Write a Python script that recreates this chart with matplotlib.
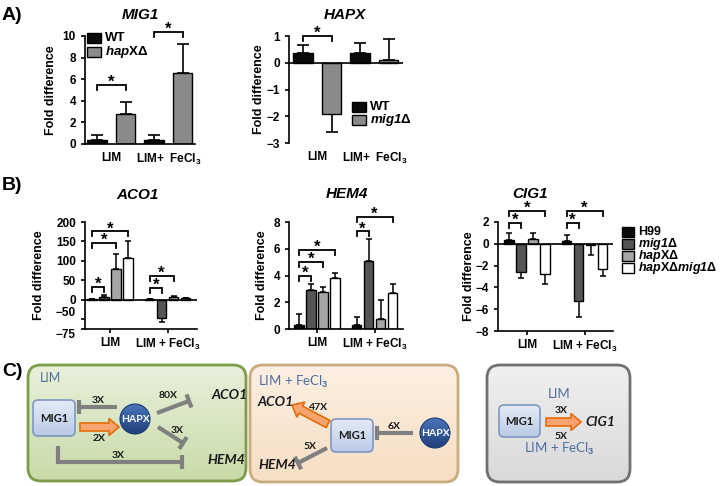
import numpy as np
import matplotlib
matplotlib.use("Agg")
import matplotlib.pyplot as plt
from matplotlib.patches import Rectangle, FancyBboxPatch, Circle, FancyArrow
from matplotlib.colors import LinearSegmentedColormap

FONT = "Liberation Sans"
DFONT = "Lato"
plt.rcParams["font.family"] = [FONT, "DejaVu Sans"]
plt.rcParams["font.weight"] = "bold"
plt.rcParams["mathtext.fontset"] = "custom"
plt.rcParams["mathtext.rm"] = "Liberation Sans"
plt.rcParams["mathtext.bf"] = "Liberation Sans:bold"
plt.rcParams["mathtext.it"] = "Liberation Sans:italic"
plt.rcParams["mathtext.bfit"] = "Liberation Sans:italic:bold"

# ---------------- data ----------------
conditions_a = ["LIM", "LIM+  FeCl$_\\mathbf{3}$"]
mig1_wt = [0.35, 0.35]
mig1_wt_err = [0.45, 0.5]
mig1_hapx = [2.8, 6.55]
mig1_hapx_err = [1.05, 2.7]

hapx_wt = [0.35, 0.35]
hapx_wt_err = [0.3, 0.37]
hapx_mig1 = [-1.9, 0.1]
hapx_mig1_err = [0.7, 0.78]

conditions_b = ["LIM", "LIM + FeCl$_3$"]
strains_b = ["H99", r"$\mathbfit{mig1}\mathbf{\Delta}$", r"$\mathbfit{hap}\mathbf{X\Delta}$",
             r"$\mathbfit{hap}\mathbf{X\Delta}\mathbfit{mig1}\mathbf{\Delta}$"]
aco1_lim = [1.0, 8.0, 80.0, 107.0]
aco1_lim_err = [0.5, 4.0, 38.0, 44.0]
aco1_fe = [1.0, -47.0, 8.0, 4.0]
aco1_fe_err = [0.5, 10.0, 2.5, 1.5]

hem4_lim = [0.3, 2.9, 2.8, 3.8]
hem4_lim_err = [0.8, 0.5, 0.35, 0.35]
hem4_fe = [0.3, 5.05, 0.75, 2.7]
hem4_fe_err = [0.6, 1.65, 1.4, 0.7]

cig1_lim = [0.35, -2.6, 0.4, -2.8]
cig1_lim_err = [0.65, 0.5, 0.6, 0.9]
cig1_fe = [0.3, -5.25, -0.1, -2.3]
cig1_fe_err = [0.5, 1.45, 0.9, 0.7]

# significance brackets: (bar i, bar j, height)
sig_mig1 = [(0, 1, 5.5), (2, 3, 10.4)]
sig_hapx = [(0, 1, 1.0)]
sig_aco1 = [(0, 1, 33), (0, 2, 146), (0, 3, 176), (4, 5, 30), (4, 6, 62)]
sig_hem4 = [(0, 1, 4.0), (0, 2, 5.0), (0, 3, 5.9), (4, 5, 7.3), (4, 7, 8.4)]
sig_cig1 = [(0, 1, 1.95), (0, 3, 3.05), (4, 5, 1.95), (4, 7, 3.05)]

legend_mig1 = ["WT", r"$\mathbfit{hap}\mathbf{X\Delta}$"]
legend_hapx = ["WT", r"$\mathbfit{mig1}\mathbf{\Delta}$"]

colors_a = ["#0a0a0a", "#8a8a8a"]
colors_b = ["#0a0a0a", "#555555", "#a6a6a6", "#ffffff"]

W, H = 720, 486
fig = plt.figure(figsize=(W / 100, H / 100), dpi=100)


def px_axes(x0, yt, x1, yb):
    ax = fig.add_axes([x0 / W, 1 - yb / H, (x1 - x0) / W, (yb - yt) / H])
    ax.set_facecolor("none")
    for s in ["top", "right"]:
        ax.spines[s].set_visible(False)
    for s in ["left", "bottom"]:
        ax.spines[s].set_linewidth(1.2)
    ax.tick_params(axis="both", labelsize=8.5, width=1.2, length=3)
    return ax


def signed_err(vals, errs):
    lo = [e if v < 0 else 0 for v, e in zip(vals, errs)]
    hi = [e if v >= 0 else 0 for v, e in zip(vals, errs)]
    return [lo, hi]


def brackets(ax, xs, sigs, drop_px=5):
    y0, y1 = ax.get_ylim()
    h_px = ax.get_position().height * H
    d = drop_px * (y1 - y0) / h_px
    for i, j, y in sigs:
        xa, xb = xs[i], xs[j]
        ax.plot([xa, xa, xb, xb], [y - d, y, y, y - d], color="black", lw=1.3,
                clip_on=False, solid_joinstyle="miter")
        ax.annotate("*", ((xa + xb) / 2, y), xytext=(0, -1.5), textcoords="offset points",
                    ha="center", va="baseline", fontsize=12, fontweight="bold",
                    annotation_clip=False)


def ylabel(ax, x_px):
    pos = ax.get_position()
    ax.set_ylabel("Fold difference", fontsize=9, fontweight="bold")
    ax.yaxis.set_label_coords((x_px - pos.x0 * W) / (pos.width * W), 0.5)


# ---------------- Panel A: MIG1 ----------------
ax = px_axes(85, 36, 195, 144)
xa = np.arange(2) * 2.0
ax.errorbar(xa, mig1_wt, yerr=signed_err(mig1_wt, mig1_wt_err), fmt="none",
            ecolor="black", elinewidth=1.2, capsize=4, capthick=1.2, zorder=1)
ax.errorbar(xa + 1, mig1_hapx, yerr=signed_err(mig1_hapx, mig1_hapx_err), fmt="none",
            ecolor="black", elinewidth=1.2, capsize=4, capthick=1.2, zorder=1)
ax.bar(xa, mig1_wt, width=0.68, color=colors_a[0], edgecolor="black", lw=1, zorder=2)
ax.bar(xa + 1, mig1_hapx, width=0.68, color=colors_a[1], edgecolor="black", lw=1, zorder=2)
ax.set_ylim(0, 10)
ax.set_xlim(-0.42, 3.43)
ax.set_yticks([0, 2, 4, 6, 8, 10])
ax.set_xticks(xa + 0.5)
ax.set_xticklabels(conditions_a, fontsize=8.5, fontweight="bold")
ax.tick_params(axis="x", length=0, pad=6)
ylabel(ax, 57)
brackets(ax, [0, 1, 2, 3], sig_mig1)

# ---------------- Panel A: HAPX ----------------
ax = px_axes(289, 36, 403, 143)
ax.errorbar(xa, hapx_wt, yerr=signed_err(hapx_wt, hapx_wt_err), fmt="none",
            ecolor="black", elinewidth=1.2, capsize=4, capthick=1.2, zorder=1)
ax.errorbar(xa + 1, hapx_mig1, yerr=signed_err(hapx_mig1, hapx_mig1_err), fmt="none",
            ecolor="black", elinewidth=1.2, capsize=4, capthick=1.2, zorder=1)
ax.bar(xa, hapx_wt, width=0.68, color=colors_a[0], edgecolor="black", lw=1, zorder=2)
ax.bar(xa + 1, hapx_mig1, width=0.68, color=colors_a[1], edgecolor="black", lw=1, zorder=2)
ax.set_ylim(-3, 1)
ax.set_xlim(-0.49, 3.5)
ax.axhline(0, color="black", lw=1.2, zorder=3)
ax.spines["bottom"].set_visible(False)
ax.set_yticks([-3, -2, -1, 0, 1])
ax.set_xticks(xa + 0.5)
ax.set_xticklabels(conditions_a, fontsize=8.5, fontweight="bold")
ax.tick_params(axis="x", length=0, pad=6)
ylabel(ax, 265)
brackets(ax, [0, 1, 2, 3], sig_hapx)

# ---------------- Panel B ----------------
grp = 4.8
xb = np.concatenate([np.arange(4) - 1.5, np.arange(4) - 1.5 + grp])


def panel_b(x0, yt, x1, yb, lim, lim_err, fe, fe_err, ylim, yticks, xlim, sigs, ylab_x, zero):
    ax = px_axes(x0, yt, x1, yb)
    vals = list(lim) + list(fe)
    errs = list(lim_err) + list(fe_err)
    cols = colors_b * 2
    ax.errorbar(xb, vals, yerr=signed_err(vals, errs), fmt="none", ecolor="black",
                elinewidth=1.1, capsize=2.5, capthick=1.1, zorder=1)
    ax.bar(xb, vals, width=0.8, color=cols, edgecolor="black", lw=1, zorder=2)
    ax.set_ylim(*ylim)
    ax.set_xlim(*xlim)
    ax.set_yticks(yticks)
    ax.set_xticks([0, grp])
    ax.set_xticklabels(conditions_b, fontsize=8.5, fontweight="bold")
    ax.tick_params(axis="x", pad=3)
    if zero:
        ax.axhline(0, color="black", lw=1.2, zorder=3)
    ylabel(ax, ylab_x)
    brackets(ax, xb, sigs)
    return ax


ax_aco = panel_b(85, 222, 197, 329, aco1_lim, aco1_lim_err, aco1_fe, aco1_fe_err,
                 (-75, 200), [-75, -50, 0, 50, 100, 150, 200], (-2.1, 7.25), sig_aco1, 45, True)
for t in ax_aco.get_yticklabels():
    if t.get_text() in ("−75", "-75"):
        t.set_va("top")
    if t.get_text() in ("−50", "-50"):
        t.set_va("bottom")
panel_b(289, 222, 403, 329, hem4_lim, hem4_lim_err, hem4_fe, hem4_fe_err,
        (0, 8), [0, 2, 4, 6, 8], (-2.33, 7.17), sig_hem4, 268, False)
panel_b(498, 222, 613, 331, cig1_lim, cig1_lim_err, cig1_fe, cig1_fe_err,
        (-8, 2), [-8, -6, -4, -2, 0, 2], (-2.42, 7.17), sig_cig1, 475, True)

# ---------------- titles & labels ----------------
for txt, x, y in [("A)", 2, 15), ("B)", 2, 186), ("C)", 2, 372)]:
    fig.text(x / W, 1 - y / H, txt, fontsize=14, fontweight="bold", ha="left", va="center")
for txt, x, y in [("MIG1", 140, 15), ("HAPX", 345, 15), ("ACO1", 138, 195),
                  ("HEM4", 347, 194), ("CIG1", 530, 194)]:
    fig.text(x / W, 1 - y / H, txt, fontsize=11, fontweight="bold", fontstyle="italic",
             ha="center", va="center")

# ---------------- overlay for legends & diagram ----------------
ad = fig.add_axes([0, 0, 1, 1], zorder=-5)
ad.set_facecolor("none")
ad.axis("off")


def legend_rows(x, y0, dy, w, h, labels, colors, size):
    for k, (lbl, c) in enumerate(zip(labels, colors)):
        y = y0 + k * dy
        ad.add_patch(Rectangle((x, y), w, h, facecolor=c, edgecolor="black", lw=1))
        ad.text(x + w + 4, y + h / 2, lbl, ha="left", va="center", fontsize=size,
                fontweight="bold")


legend_mig1_pos = legend_rows(87, 33, 14.5, 14, 10, legend_mig1, colors_a, 9.5)
legend_rows(352, 102, 13, 14, 10, legend_hapx, colors_a, 9.5)
legend_rows(622, 227, 12, 12, 10, strains_b, colors_b, 9)


def grad_fill(patch, c_top, c_bot, bbox):
    x0, y0, x1, y1 = bbox
    ad.add_patch(patch)
    cmap = LinearSegmentedColormap.from_list("g", [c_top, c_bot])
    im = ad.imshow(np.linspace(0, 1, 64)[:, None], extent=(x0, x1, y1, y0), cmap=cmap,
                   aspect="auto", zorder=patch.get_zorder() - 0.05, interpolation="bilinear")
    im.set_clip_path(patch)


def rbox(x0, y0, x1, y1, r, c_top, c_bot, ec, lw, z=1):
    p = FancyBboxPatch((x0, y0), x1 - x0, y1 - y0, boxstyle=f"round,pad=0,rounding_size={r}",
                       facecolor="none", edgecolor=ec, lw=lw, zorder=z)
    grad_fill(p, c_top, c_bot, (x0, y0, x1, y1))


def mig1_box(x0, y0, x1, y1):
    rbox(x0, y0, x1, y1, 5, "#e4ebf6", "#b9cae6", "#7f97c2", 1.2, z=3)
    ad.text((x0 + x1) / 2, (y0 + y1) / 2, "MIG1", ha="center", va="center", fontsize=8,
            fontweight="bold", family=DFONT, color="#1a1a1a", zorder=5)


def hapx_circle(cx, cy, r=15):
    c = Circle((cx, cy), r, facecolor="none", edgecolor="#1f3c73", lw=0.8, zorder=3)
    grad_fill(c, "#4a74bb", "#1f3f7a", (cx - r, cy - r, cx + r, cy + r))
    ad.text(cx, cy, "HAPX", ha="center", va="center", fontsize=7.5, fontweight="bold",
            family=DFONT, color="white", zorder=5)


def inhibit(pts, bar=7):
    xs, ys = zip(*pts)
    ad.plot(xs, ys, color="#808080", lw=3, solid_capstyle="butt",
            solid_joinstyle="miter", zorder=4)
    (xp, yp), (xe, ye) = pts[-2], pts[-1]
    d = np.array([xe - xp, ye - yp], float)
    d /= np.hypot(*d)
    n = np.array([-d[1], d[0]])
    ad.plot([xe - n[0] * bar, xe + n[0] * bar], [ye - n[1] * bar, ye + n[1] * bar],
            color="#808080", lw=3, solid_capstyle="butt", zorder=4)


def block_arrow(x0, y0, x1, y1):
    ad.add_patch(FancyArrow(x0, y0, x1 - x0, y1 - y0, width=8, head_width=17,
                            head_length=10, length_includes_head=True,
                            facecolor="#f7a46e", edgecolor="#e46c0a", lw=1.2, zorder=4))


def lab(x, y, s, size=7.5, color="#1a1a1a", ha="center", style="normal", weight="bold"):
    ad.text(x, y, s, ha=ha, va="center", fontsize=size, fontweight=weight, fontstyle=style,
            family=DFONT, color=color, zorder=6)


BLUE = "#4f6fa0"
# box 1 (LIM)
rbox(28, 365, 246, 481, 13, "#e8f0dc", "#c9dba8", "#7d9c4c", 2)
lab(40, 378, "LIM", size=9, color=BLUE, ha="left", weight="normal")
mig1_box(33, 400, 75, 436)
hapx_circle(135, 419)
inhibit([(117, 407), (79, 407)])
lab(98, 400, "3X")
block_arrow(80, 427, 119, 427)
lab(99, 438, "2X")
inhibit([(157, 413), (189, 401)])
lab(168, 395, "80X")
lab(212, 395, "ACO1", size=10, ha="left", style="italic")
inhibit([(158, 427), (183, 443)])
lab(177, 430, "3X")
inhibit([(58, 446), (58, 462), (182, 462)])
lab(118, 455, "3X")
lab(207, 460, "HEM4", size=10, ha="left", style="italic")

# box 2 (LIM + FeCl3)
rbox(250, 365, 458, 482, 13, "#fcefe2", "#f6dfc4", "#c9ab7d", 2)
lab(258, 382, "LIM + FeCl$_3$", size=9.5, color=BLUE, ha="left", weight="normal")
lab(258, 402, "ACO1", size=10, ha="left", style="italic")
block_arrow(328, 424, 292, 405)
lab(318, 407, "47X")
mig1_box(331, 419, 373, 452)
hapx_circle(435, 433)
inhibit([(413, 433), (377, 433)])
lab(394, 426, "6X")
inhibit([(327, 448), (298, 463)])
lab(310, 446, "5X")
lab(258, 465, "HEM4", size=10, ha="left", style="italic")

# box 3 (CIG1)
rbox(487, 365, 630, 482, 13, "#f0f0f0", "#d9d9d9", "#707070", 2)
lab(559, 394, "LIM", size=9.5, color=BLUE, weight="normal")
mig1_box(499, 405, 540, 437)
block_arrow(546, 422, 581, 422)
lab(561, 410, "3X")
lab(585, 422, "CIG1", size=10, ha="left", style="italic")
lab(561, 436, "5X")
lab(559, 449, "LIM + FeCl$_3$", size=9.5, color=BLUE, weight="normal")

ad.set_xlim(0, W)
ad.set_ylim(H, 0)

fig.savefig("out.png", dpi=100)
